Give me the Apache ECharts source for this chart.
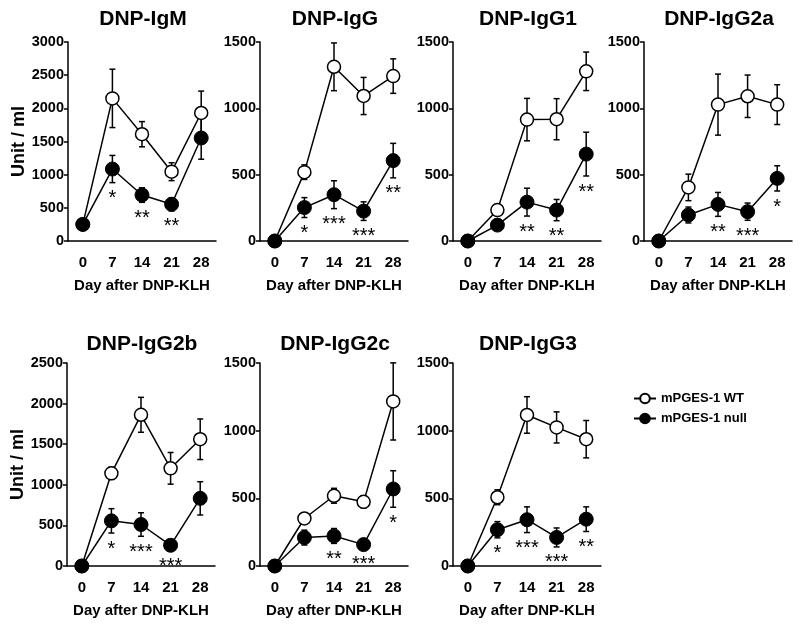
<!DOCTYPE html>
<html>
<head>
<meta charset="utf-8">
<script src="https://cdn.jsdelivr.net/npm/echarts@6/dist/echarts.min.js"></script>
<style>html,body{margin:0;padding:0;background:#fff;}#c{width:800px;height:625px;}</style>
</head>
<body>
<div id="c"></div>
<script>
const days = ['0', '7', '14', '21', '28'];
const panelTitles = ['DNP-IgM', 'DNP-IgG', 'DNP-IgG1', 'DNP-IgG2a', 'DNP-IgG2b', 'DNP-IgG2c', 'DNP-IgG3'];
const yMax = [3000, 1500, 1500, 1500, 2500, 1500, 1500];
const seriesNames = ['mPGES-1 WT', 'mPGES-1 null'];

// DNP-IgM
const igmWT = [250, 2150, 1610, 1045, 1930];
const igmWTsem = [0, 440, 190, 135, 330];
const igmNull = [250, 1085, 693, 553, 1553];
const igmNullSem = [0, 205, 110, 100, 320];
const igmSig = ['', '*', '**', '**', ''];
// DNP-IgG
const iggWT = [0, 519, 1313, 1093, 1243];
const iggWTsem = [0, 55, 180, 140, 130];
const iggNull = [0, 252, 349, 225, 606];
const iggNullSem = [0, 75, 105, 70, 130];
const iggSig = ['', '*', '***', '***', '**'];
// DNP-IgG1
const igg1WT = [0, 233, 915, 918, 1279];
const igg1WTsem = [0, 0, 160, 155, 145];
const igg1Null = [0, 120, 293, 233, 655];
const igg1NullSem = [0, 30, 105, 80, 165];
const igg1Sig = ['', '', '**', '**', '**'];
// DNP-IgG2a
const igg2aWT = [0, 404, 1028, 1091, 1028];
const igg2aWTsem = [0, 100, 230, 160, 150];
const igg2aNull = [0, 196, 276, 221, 472];
const igg2aNullSem = [0, 60, 90, 65, 95];
const igg2aSig = ['', '', '**', '***', '*'];
// DNP-IgG2b
const igg2bWT = [0, 1141, 1862, 1203, 1561];
const igg2bWTsem = [0, 75, 215, 195, 250];
const igg2bNull = [0, 556, 511, 255, 833];
const igg2bNullSem = [0, 150, 145, 70, 205];
const igg2bSig = ['', '*', '***', '***', ''];
// DNP-IgG2c
const igg2cWT = [0, 351, 519, 474, 1216];
const igg2cWTsem = [0, 20, 55, 45, 285];
const igg2cNull = [0, 210, 222, 158, 569];
const igg2cNullSem = [0, 55, 55, 30, 135];
const igg2cSig = ['', '', '**', '***', '*'];
// DNP-IgG3
const igg3WT = [0, 508, 1116, 1024, 937];
const igg3WTsem = [0, 55, 135, 115, 138];
const igg3Null = [0, 268, 342, 211, 346];
const igg3NullSem = [0, 60, 95, 70, 91];
const igg3Sig = ['', '*', '***', '***', '**'];

const panels = [
  [igmWT, igmWTsem, igmNull, igmNullSem, igmSig],
  [iggWT, iggWTsem, iggNull, iggNullSem, iggSig],
  [igg1WT, igg1WTsem, igg1Null, igg1NullSem, igg1Sig],
  [igg2aWT, igg2aWTsem, igg2aNull, igg2aNullSem, igg2aSig],
  [igg2bWT, igg2bWTsem, igg2bNull, igg2bNullSem, igg2bSig],
  [igg2cWT, igg2cWTsem, igg2cNull, igg2cNullSem, igg2cSig],
  [igg3WT, igg3WTsem, igg3Null, igg3NullSem, igg3Sig]
];

const FONT = 'Liberation Sans, Arial, Helvetica, sans-serif';
const gridLefts = [68, 260, 453, 644, 67, 260, 453];
const gridW = 148;
const rowTop = [42, 363];
const rowH = [199, 203];

const grids = [], xAxes = [], yAxes = [], series = [], titles = [];

function errRender(params, api) {
  const x = api.value(0), lo = api.value(1), hi = api.value(2);
  if (!(hi - lo > 0)) return null;
  const p1 = api.coord([x, lo]), p2 = api.coord([x, hi]);
  const w = 3;
  const st = {stroke: '#000', lineWidth: 1.5};
  return {type: 'group', children: [
    {type: 'line', shape: {x1: p1[0], y1: p1[1], x2: p2[0], y2: p2[1]}, style: st},
    {type: 'line', shape: {x1: p1[0] - w, y1: p1[1], x2: p1[0] + w, y2: p1[1]}, style: st},
    {type: 'line', shape: {x1: p2[0] - w, y1: p2[1], x2: p2[0] + w, y2: p2[1]}, style: st}
  ]};
}

function sigRenderFactory(sig) {
  return function (params, api) {
    const s = sig[params.dataIndex];
    if (!s) return null;
    const p = api.coord([api.value(0), api.value(1)]);
    return {type: 'text', style: {text: s, x: p[0], y: p[1] + 16, align: 'center', verticalAlign: 'middle',
      fontSize: 20, fontFamily: FONT, fill: '#000'}};
  };
}

panels.forEach((pd, k) => {
  const row = k < 4 ? 0 : 1;
  grids.push({left: gridLefts[k], top: rowTop[row], width: gridW, height: rowH[row]});
  titles.push({text: panelTitles[k], left: gridLefts[k] + gridW / 2 - 4, top: row === 0 ? 4 : 329, textAlign: 'center',
    textStyle: {fontFamily: FONT, fontSize: 21, fontWeight: 'bold', color: '#000'}});
  xAxes.push({gridIndex: k, type: 'category', data: days, boundaryGap: true,
    axisLine: {lineStyle: {color: '#000', width: 1.5}},
    axisTick: {alignWithLabel: true, length: 4, lineStyle: {color: '#000', width: 1.5}},
    axisLabel: {color: '#000', fontFamily: FONT, fontSize: 15, fontWeight: 'bold', margin: 14},
    name: 'Day after DNP-KLH', nameLocation: 'middle', nameGap: 37,
    nameTextStyle: {color: '#000', fontFamily: FONT, fontSize: 15, fontWeight: 'bold'}});
  const ya = {gridIndex: k, type: 'value', min: 0, max: yMax[k], interval: 500,
    axisLine: {show: true, lineStyle: {color: '#000', width: 1.5}},
    axisTick: {show: true, length: 4, lineStyle: {color: '#000', width: 1.5}},
    splitLine: {show: false},
    axisLabel: {color: '#000', fontFamily: FONT, fontSize: 14.5, fontWeight: 'bold', margin: 4,
      formatter: v => String(v)}};
  if (k === 0 || k === 4) {
    ya.name = 'Unit / ml'; ya.nameLocation = 'middle'; ya.nameGap = 40;
    ya.nameTextStyle = {color: '#000', fontFamily: FONT, fontSize: 18, fontWeight: 'bold'};
  }
  yAxes.push(ya);
  const [wt, wtSem, nu, nuSem, sig] = pd;
  series.push({type: 'custom', xAxisIndex: k, yAxisIndex: k, z: 1, renderItem: errRender,
    encode: {x: 0, y: [1, 2]}, data: wt.map((v, i) => [i, v - wtSem[i], v + wtSem[i]]), silent: true});
  series.push({type: 'custom', xAxisIndex: k, yAxisIndex: k, z: 1, renderItem: errRender,
    encode: {x: 0, y: [1, 2]}, data: nu.map((v, i) => [i, v - nuSem[i], v + nuSem[i]]), silent: true});
  series.push({name: seriesNames[0], type: 'line', xAxisIndex: k, yAxisIndex: k, z: 3, data: wt,
    symbol: 'circle', symbolSize: 13, showAllSymbol: true,
    itemStyle: {color: '#fff', borderColor: '#000', borderWidth: 1.5},
    lineStyle: {color: '#000', width: 1.5}});
  series.push({name: seriesNames[1], type: 'line', xAxisIndex: k, yAxisIndex: k, z: 4, data: nu,
    symbol: 'circle', symbolSize: 14, showAllSymbol: true,
    itemStyle: {color: '#000', borderColor: '#000', borderWidth: 1},
    lineStyle: {color: '#000', width: 1.5}});
  series.push({type: 'custom', xAxisIndex: k, yAxisIndex: k, z: 5, renderItem: sigRenderFactory(sig),
    encode: {x: 0, y: 1}, data: nu.map((v, i) => [i, v - nuSem[i]]), silent: true});
});

const chart = echarts.init(document.getElementById('c'), null, {renderer: 'canvas'});
chart.setOption({
  animation: false,
  backgroundColor: '#fff',
  title: titles,
  legend: {data: seriesNames, orient: 'vertical', left: 628, top: 387, itemWidth: 22, itemHeight: 12, itemGap: 7,
    textStyle: {color: '#000', fontFamily: FONT, fontSize: 13, fontWeight: 'bold'}},
  grid: grids,
  xAxis: xAxes,
  yAxis: yAxes,
  series: series
});
</script>
</body>
</html>
